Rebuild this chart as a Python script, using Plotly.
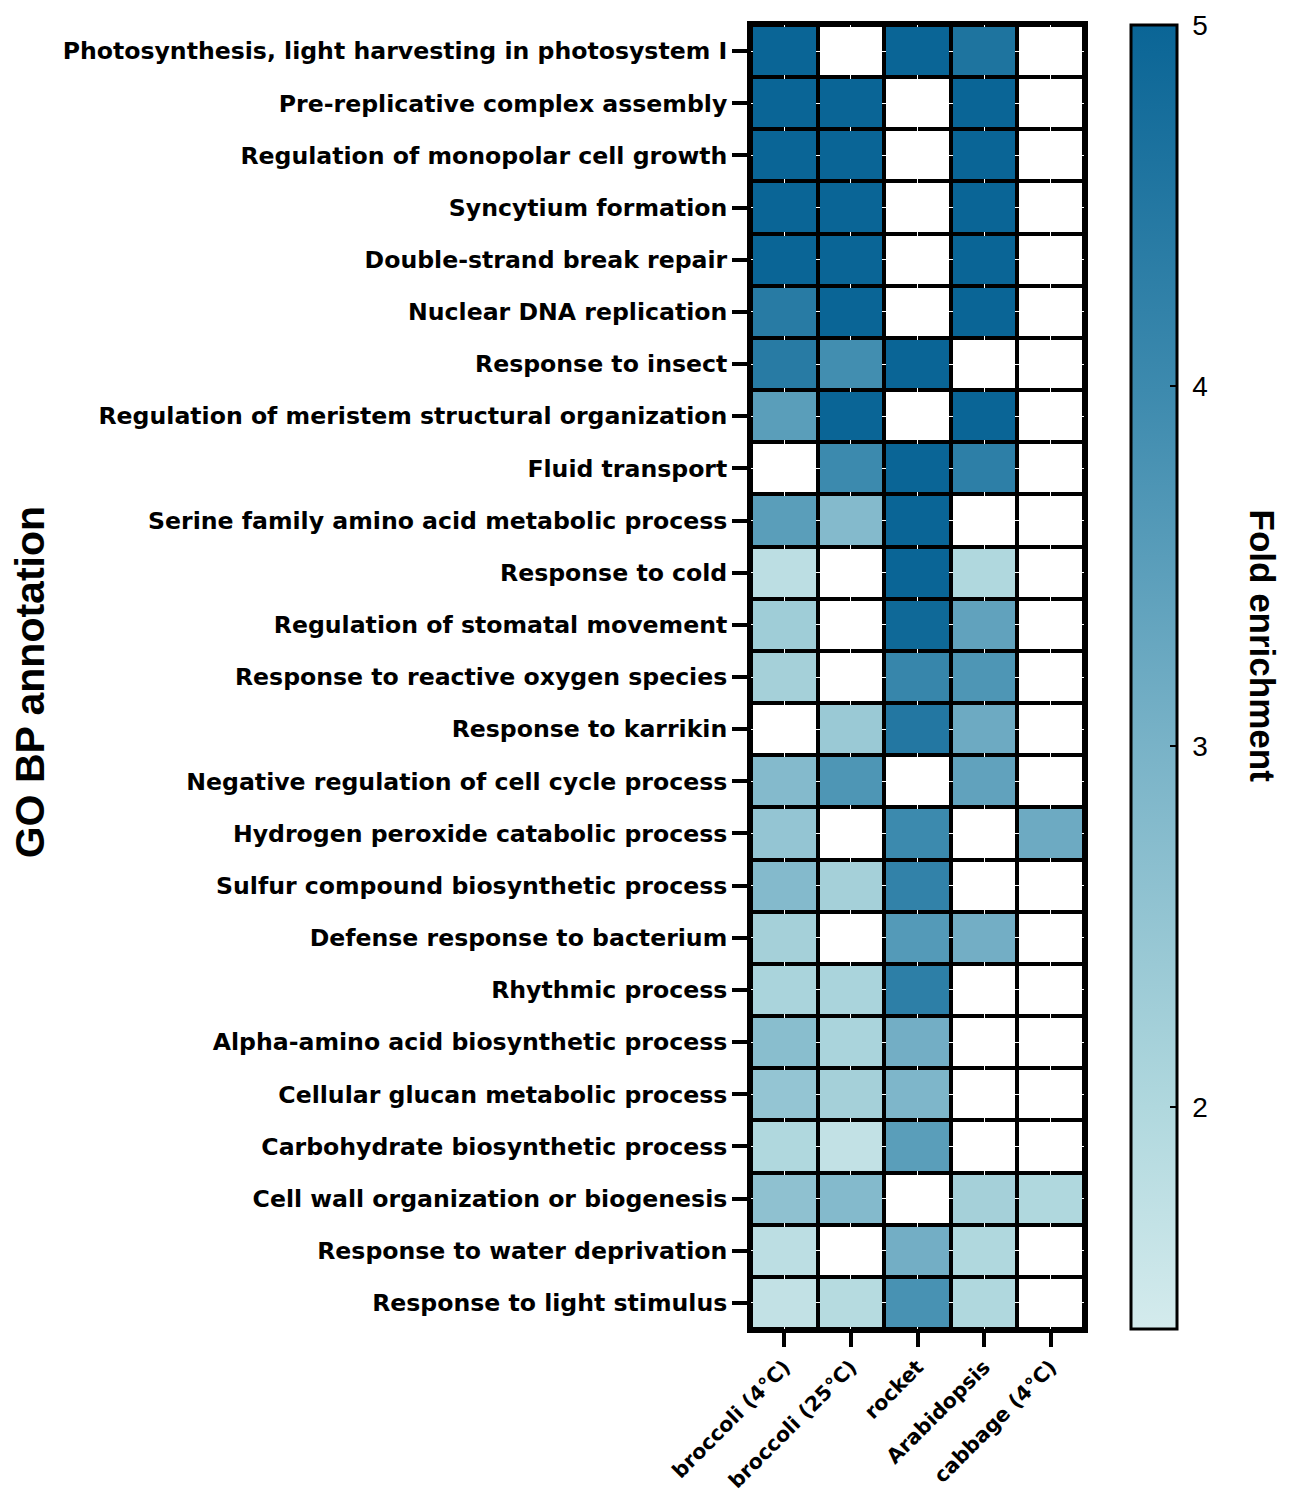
import numpy as np
import plotly.graph_objects as go

samples = ["broccoli (4°C)", "broccoli (25°C)", "rocket", "Arabidopsis", "cabbage (4°C)"]

terms = [
    "Photosynthesis, light harvesting in photosystem I",
    "Pre-replicative complex assembly",
    "Regulation of monopolar cell growth",
    "Syncytium formation",
    "Double-strand break repair",
    "Nuclear DNA replication",
    "Response to insect",
    "Regulation of meristem structural organization",
    "Fluid transport",
    "Serine family amino acid metabolic process",
    "Response to cold",
    "Regulation of stomatal movement",
    "Response to reactive oxygen species",
    "Response to karrikin",
    "Negative regulation of cell cycle process",
    "Hydrogen peroxide catabolic process",
    "Sulfur compound biosynthetic process",
    "Defense response to bacterium",
    "Rhythmic process",
    "Alpha-amino acid biosynthetic process",
    "Cellular glucan metabolic process",
    "Carbohydrate biosynthetic process",
    "Cell wall organization or biogenesis",
    "Response to water deprivation",
    "Response to light stimulus",
]

# fold enrichment per sample (None = not enriched)
broccoli_4c = [5.0, 5.0, 5.0, 5.0, 5.0, 4.4, 4.4, 3.5, None, 3.5, 1.8, 2.3, 2.2,
               None, 2.8, 2.5, 2.8, 2.2, 2.1, 2.7, 2.5, 2.0, 2.6, 1.8, 1.7]
broccoli_25c = [None, 5.0, 5.0, 5.0, 5.0, 5.0, 3.9, 5.0, 4.0, 2.8, None, None, None,
                2.4, 3.7, None, 2.2, None, 2.1, 2.1, 2.2, 1.7, 2.8, None, 1.9]
rocket = [5.0, None, None, None, None, None, 5.0, None, 5.0, 5.0, 5.0, 4.9, 4.1,
          4.5, None, 4.0, 4.2, 3.6, 4.3, 3.1, 2.9, 3.5, None, 3.1, 3.8]
arabidopsis = [4.6, 5.0, 5.0, 5.0, 5.0, 5.0, None, 5.0, 4.3, None, 2.0, 3.4, 3.7,
               3.2, 3.4, None, None, 3.1, None, None, None, None, 2.2, 2.0, 2.0]
cabbage_4c = [None] * 15 + [3.2] + [None] * 6 + [2.0, None, None]

series = [broccoli_4c, broccoli_25c, rocket, arabidopsis, cabbage_4c]
z = np.array([[np.nan if v is None else v for v in col] for col in series]).T

cbar_ticks = [2, 3, 4, 5]

colorscale = [
    [0.0, "#d4ebed"],
    [0.17, "#b0d8de"],
    [0.45, "#78b2c7"],
    [0.72, "#3d8aae"],
    [1.0, "#0a6596"],
]

arial = "Liberation Sans, Arial, sans-serif"
wide = "DejaVu Sans, Verdana, sans-serif"

fig = go.Figure()
# white underlay so empty cells stay white while gaps show black
fig.add_trace(go.Heatmap(
    x=samples, y=terms, z=np.zeros_like(z),
    colorscale=[[0, "white"], [1, "white"]], showscale=False,
    xgap=4, ygap=4, hoverinfo="skip",
))
fig.add_trace(go.Heatmap(
    x=samples, y=terms, z=z,
    colorscale=colorscale, zmin=1.385, zmax=5,
    xgap=4, ygap=4,
    colorbar=dict(
        x=1.141, xanchor="left", xref="paper", xpad=0,
        y=0.5, yanchor="middle", len=1.0, lenmode="fraction", ypad=0,
        thickness=46, thicknessmode="pixels",
        outlinecolor="black", outlinewidth=3,
        tickvals=cbar_ticks, ticktext=["\u00a0" + str(t) for t in cbar_ticks],
        ticks="inside", ticklen=8, tickwidth=2, tickcolor="black",
        tickfont=dict(family=arial, size=28, color="black"),
    ),
))

fig.add_annotation(
    text="<b>GO BP annotation</b>", xref="paper", yref="paper",
    x=-2.165, y=0.496, xanchor="center", yanchor="middle",
    textangle=-90, showarrow=False,
    font=dict(family=arial, size=41, color="black"),
)
fig.add_annotation(
    text="<b>Fold enrichment</b>", xref="paper", yref="paper",
    x=1.535, y=0.524, xanchor="center", yanchor="middle",
    textangle=90, showarrow=False,
    font=dict(family=arial, size=35, color="black"),
)

fig.update_layout(
    width=1286, height=1489,
    margin=dict(l=743, r=210, t=17, b=168),
    plot_bgcolor="black", paper_bgcolor="white",
    font=dict(family=arial, color="black"),
)
fig.update_xaxes(
    automargin=False,
    tickangle=-45, tickfont=dict(family=wide, size=20.5, color="black"),
    ticks="outside", ticklen=14, tickwidth=3.5, tickcolor="black",
    showline=True, linecolor="black", linewidth=4, mirror=True,
    tickprefix="<b>", ticksuffix="</b>",
)
fig.update_yaxes(
    automargin=False,
    autorange="reversed",
    tickfont=dict(family=wide, size=23.6, color="black"),
    ticks="outside", ticklen=15, tickwidth=3.5, tickcolor="black",
    showline=True, linecolor="black", linewidth=4, mirror=True,
    tickprefix="<b>", ticksuffix="</b>",
)

fig.write_html("out.html")
